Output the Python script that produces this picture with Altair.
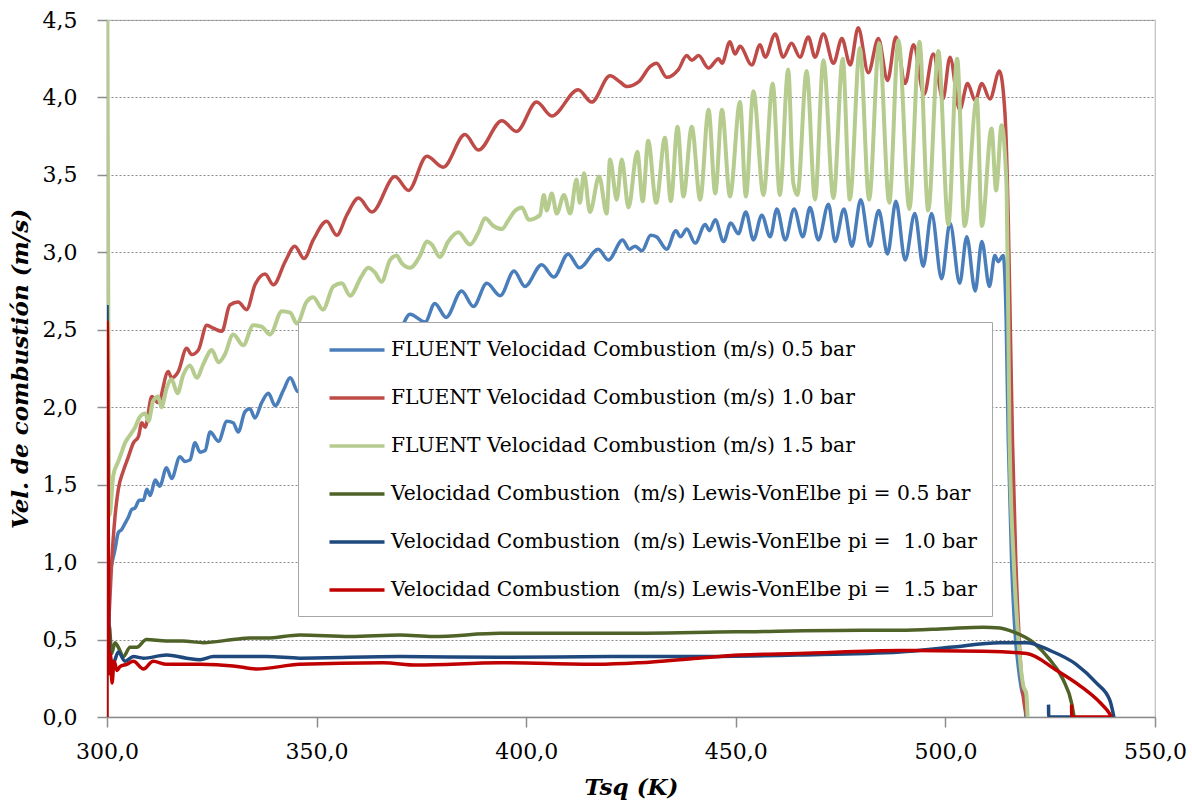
import altair as alt
import pandas as pd

SERIES = [
    "FLUENT Velocidad Combustion (m/s) 0.5 bar",
    "FLUENT Velocidad Combustion (m/s) 1.0 bar",
    "FLUENT Velocidad Combustion (m/s) 1.5 bar",
    "Velocidad Combustion  (m/s) Lewis-VonElbe pi = 0.5 bar",
    "Velocidad Combustion  (m/s) Lewis-VonElbe pi =  1.0 bar",
    "Velocidad Combustion  (m/s) Lewis-VonElbe pi =  1.5 bar",
]
COLORS = ["#4A7EBB", "#BE4B48", "#B5CC8E", "#4F6228", "#1F497D", "#C00000"]
WIDTHS = [3.5, 3.5, 4, 3.5, 3.5, 3.5]

X_TICKS = [300, 350, 400, 450, 500, 550]
Y_TICKS = [0, 0.5, 1.0, 1.5, 2.0, 2.5, 3.0, 3.5, 4.0, 4.5]

# FLUENT 0.5 bar
f05_x = [300.4, 300.6, 301.9, 302.7, 303.5, 304.3, 305.1, 305.9, 306.7, 307.7, 308.7, 309.5, 310.3,
         311.5, 312.6, 314.2, 315.4, 317.4, 318.6, 319.8, 321.0, 322.2, 323.4, 324.6, 326.6, 328.6,
         330.1, 331.3, 332.9, 334.1, 335.3, 336.9, 338.5, 340.1, 342.1, 343.7, 345.6,
         348.0, 350.2, 352.5, 354.8, 357.2, 359.5, 361.8, 364.2, 366.5, 368.9,
         372.3, 375.9, 378.2, 380.9, 384.6, 387.4, 390.6, 393.8, 397.1, 399.7, 403.7, 406.6, 410.0,
         412.7, 417.2, 419.6, 423.0, 424.6, 426.0, 427.6, 429.7, 431.1, 433.5, 435.7, 436.8, 438.3,
         440.3, 442.7, 443.7, 445.1, 447.1, 448.8, 450.6, 452.4, 454.2, 456.2, 458.2, 459.8, 461.8,
         463.9, 466.0, 467.7, 469.7, 472.1, 473.7, 475.8, 477.7, 479.8, 482.0, 484.1, 486.2, 488.2,
         490.4, 492.7, 494.7, 496.7, 499.1, 501.1, 503.4, 505.1, 507.1, 508.7, 510.5, 511.8, 512.6,
         513.8, 514.5, 515.0, 515.8, 516.6, 517.5, 518.4, 518.8, 519.2]
f05_y = [0.50, 0.88, 1.08, 1.19, 1.21, 1.25, 1.29, 1.34, 1.35, 1.40, 1.40, 1.47, 1.43,
         1.53, 1.49, 1.61, 1.54, 1.68, 1.65, 1.66, 1.77, 1.71, 1.72, 1.84, 1.78, 1.91,
         1.90, 1.84, 1.97, 1.99, 1.93, 2.03, 2.09, 2.01, 2.11, 2.19, 2.10,
         2.18, 2.14, 2.27, 2.22, 2.35, 2.30, 2.43, 2.38, 2.50, 2.46,
         2.60, 2.55, 2.67, 2.58, 2.75, 2.65, 2.80, 2.72, 2.88, 2.78, 2.92, 2.84, 2.99,
         2.90, 3.02, 2.95, 3.08, 3.02, 3.04, 3.01, 3.11, 3.10, 3.02, 3.14, 3.10, 3.15,
         3.06, 3.18, 3.14, 3.21, 3.07, 3.19, 3.12, 3.26, 3.08, 3.24, 3.10, 3.28, 3.08,
         3.28, 3.10, 3.29, 3.08, 3.31, 3.07, 3.28, 3.04, 3.34, 3.04, 3.27, 2.99, 3.33,
         2.95, 3.25, 2.91, 3.25, 2.83, 3.19, 2.80, 3.10, 2.75, 3.07, 2.78, 2.98, 2.94,
         2.98, 2.56, 1.79, 1.00, 0.55, 0.30, 0.15, 0.12, 0.00]

# FLUENT 1.0 bar
f10_x = [300.4, 301.1, 301.9, 302.7, 303.9, 305.1, 306.3, 307.5, 308.3, 309.1, 310.7, 312.2, 314.6,
         315.4, 317.0, 319.0, 320.2, 321.8, 323.8, 325.4, 327.4, 329.3, 331.3, 333.3, 335.3, 337.7,
         339.7, 342.5, 344.8, 347.0, 349.2, 352.4, 354.8, 357.2, 360.0, 363.2, 368.7, 371.9, 376.3,
         380.2, 385.4, 388.6, 394.2, 397.7, 402.5, 406.1, 412.4, 415.6, 420.0, 422.4, 424.0, 426.8,
         429.6, 431.1, 433.5, 436.3, 438.3, 439.5, 441.1, 443.5, 445.9, 446.7, 448.6, 449.8, 451.0,
         453.8, 455.8, 457.0, 459.4, 461.3, 463.3, 465.3, 467.3, 468.9, 470.9, 473.3, 475.3, 477.3,
         479.2, 481.6, 484.0, 486.2, 488.2, 490.4, 492.4, 494.9, 497.1, 499.4, 501.1, 503.4, 505.3,
         507.1, 508.7, 510.6, 512.9, 514.2, 515.0, 515.6, 516.0, 516.8, 517.6, 518.5, 519.5]
f10_y = [0.60, 0.99, 1.29, 1.47, 1.59, 1.68, 1.77, 1.81, 1.90, 1.87, 2.07, 2.03, 2.23,
         2.19, 2.23, 2.38, 2.34, 2.37, 2.53, 2.51, 2.49, 2.66, 2.68, 2.63, 2.79, 2.86,
         2.79, 2.94, 3.04, 2.96, 3.08, 3.20, 3.11, 3.24, 3.35, 3.26, 3.49, 3.40, 3.62,
         3.55, 3.76, 3.66, 3.85, 3.78, 3.97, 3.88, 4.05, 3.97, 4.14, 4.10, 4.07, 4.10,
         4.20, 4.22, 4.13, 4.18, 4.27, 4.24, 4.27, 4.19, 4.25, 4.22, 4.36, 4.28, 4.33,
         4.21, 4.34, 4.26, 4.41, 4.26, 4.35, 4.26, 4.39, 4.26, 4.41, 4.22, 4.38, 4.21,
         4.45, 4.16, 4.38, 4.11, 4.39, 4.09, 4.34, 4.02, 4.28, 3.99, 4.26, 3.92, 4.09,
         3.98, 4.09, 3.99, 4.17, 3.90, 3.21, 2.35, 1.79, 1.00, 0.50, 0.15, 0.00]

# FLUENT 1.5 bar
f15_x = [300.1, 300.6, 301.5, 302.7, 303.5, 304.3, 305.5, 306.7, 307.9, 309.1, 309.9, 311.0, 312.2,
         313.0, 314.2, 315.4, 316.8, 318.2, 319.8, 321.4, 323.0, 325.0, 326.6, 328.1, 330.1, 332.5,
         334.9, 336.9, 338.9, 341.7, 343.7, 345.3, 347.6, 349.2, 351.5, 354.0, 356.0, 358.0, 360.6,
         362.3, 363.9, 365.5, 367.5, 369.1, 370.3, 372.3, 374.7, 376.3, 377.5, 379.4, 381.4, 383.8,
         386.6, 388.6, 390.2, 392.2, 394.2, 395.8, 397.4, 399.0, 400.6, 403.3, 404.2, 404.9, 406.1,
         407.3, 409.0, 410.5, 412.0, 412.8, 413.8, 415.2, 417.4, 419.2, 420.0, 421.6, 422.8, 424.4,
         426.5, 427.8, 429.1, 431.0, 433.1, 434.5, 436.1, 437.5, 439.5, 441.5, 443.5, 445.1, 446.7,
         448.6, 451.0, 452.4, 454.2, 456.6, 458.8, 460.5, 462.5, 463.7, 464.7, 466.9, 468.9, 470.9,
         473.3, 475.5, 477.2, 479.6, 481.8, 484.2, 486.6, 488.8, 491.4, 493.8, 495.9, 498.3, 500.7,
         502.8, 504.6, 507.5, 508.7, 511.0, 512.1, 513.4, 514.6, 515.0, 515.3, 516.3, 517.4, 518.6,
         519.3, 519.6]
f15_y = [4.50, 1.30, 1.56, 1.65, 1.71, 1.77, 1.82, 1.87, 1.94, 1.96, 1.91, 2.04, 2.07,
         2.00, 2.12, 2.18, 2.09, 2.21, 2.27, 2.19, 2.28, 2.37, 2.29, 2.34, 2.47, 2.40,
         2.53, 2.52, 2.47, 2.62, 2.61, 2.54, 2.68, 2.71, 2.63, 2.78, 2.80, 2.72, 2.84,
         2.90, 2.87, 2.81, 2.95, 2.98, 2.93, 2.90, 2.98, 3.07, 3.05, 2.97, 3.07, 3.13,
         3.05, 3.13, 3.22, 3.17, 3.15, 3.21, 3.27, 3.29, 3.21, 3.24, 3.37, 3.27, 3.38,
         3.25, 3.37, 3.25, 3.47, 3.32, 3.51, 3.26, 3.49, 3.25, 3.60, 3.34, 3.60, 3.29,
         3.65, 3.33, 3.72, 3.32, 3.74, 3.33, 3.81, 3.36, 3.81, 3.34, 3.92, 3.38, 3.92,
         3.36, 3.97, 3.36, 4.04, 3.37, 4.09, 3.37, 4.18, 3.45, 3.37, 4.17, 3.34, 4.24,
         3.35, 4.25, 3.34, 4.32, 3.34, 4.35, 3.32, 4.37, 3.28, 4.36, 3.27, 4.30, 3.18,
         4.25, 3.17, 3.99, 3.17, 3.80, 3.40, 3.82, 3.42, 2.56, 1.81, 1.00, 0.50, 0.20,
         0.15, 0.00]

# Lewis-VonElbe 0.5 bar
l05_x = [300.3, 300.6, 301.1, 301.9, 302.7, 303.9, 305.5, 307.1, 309.4, 314.2, 318.0, 323.0, 330.1,
         334.1, 338.1, 346.0, 358.0, 369.9, 377.8, 393.7, 420.0, 450.0, 480.0, 489.2, 500.0, 509.0,
         513.0, 516.2, 521.0, 524.9, 528.1, 530.1, 530.7]
l05_y = [0.60, 0.58, 0.41, 0.48, 0.45, 0.39, 0.45, 0.45, 0.50, 0.49, 0.49, 0.48, 0.50,
         0.51, 0.51, 0.53, 0.52, 0.53, 0.52, 0.54, 0.54, 0.55, 0.56, 0.56, 0.57, 0.58,
         0.575, 0.55, 0.48, 0.37, 0.24, 0.09, 0.00]

# Lewis-VonElbe 1.0 bar
l10_x = [300.0, 300.4, 300.7, 301.5, 302.7, 304.3, 306.3, 308.7, 314.2, 319.0, 322.2, 325.4, 334.1,
         338.1, 346.0, 369.9, 393.7, 420.0, 441.0, 465.0, 489.2, 501.1, 513.0, 519.4, 524.9, 531.2,
         536.0, 539.2, 540.2]
l10_y = [2.66, 0.50, 0.39, 0.35, 0.42, 0.36, 0.39, 0.38, 0.40, 0.38, 0.37, 0.39, 0.39,
         0.39, 0.38, 0.39, 0.385, 0.39, 0.39, 0.40, 0.42, 0.45, 0.48, 0.48, 0.43, 0.34,
         0.22, 0.11, 0.00]
l10_tail_x = [524.6, 524.65, 530.0]
l10_tail_y = [0.08, 0.00, 0.00]

# Lewis-VonElbe 1.5 bar
l15_x = [300.0, 300.05, 300.5, 300.8, 301.2, 301.7, 302.4, 303.1, 304.7, 306.3, 308.7, 311.0, 314.2,
         322.2, 330.1, 335.7, 346.0, 365.9, 373.9, 393.7, 417.0, 427.0, 441.0, 451.0, 465.0, 489.2,
         509.0, 519.4, 526.6, 532.2, 537.0, 539.2, 539.6]
l15_y = [0.00, 2.55, 0.28, 0.41, 0.22, 0.36, 0.30, 0.325, 0.34, 0.36, 0.31, 0.36, 0.34,
         0.34, 0.33, 0.31, 0.34, 0.35, 0.335, 0.35, 0.34, 0.35, 0.38, 0.40, 0.41, 0.43,
         0.425, 0.41, 0.30, 0.20, 0.09, 0.02, 0.00]
l15_tail_x = [530.1, 530.15, 539.6]
l15_tail_y = [0.08, 0.00, 0.00]

pieces = [
    (SERIES[0], f05_x, f05_y, 0),
    (SERIES[1], f10_x, f10_y, 0),
    (SERIES[2], f15_x, f15_y, 0),
    (SERIES[3], l05_x, l05_y, 0),
    (SERIES[4], l10_x, l10_y, 0),
    (SERIES[4], l10_tail_x, l10_tail_y, 1),
    (SERIES[5], l15_x, l15_y, 0),
    (SERIES[5], l15_tail_x, l15_tail_y, 1),
]
rows = []
for name, xs, ys, seg in pieces:
    for xv, yv in zip(xs, ys):
        rows.append({"series": name, "x": xv, "y": yv, "seg": seg})
df = pd.DataFrame(rows)

FONT = "DejaVu Serif"
NB = "\u00a0"

legend = alt.Legend(
    orient="none", legendX=191, legendY=302, title=None,
    symbolType="M-2.5,0H2.5", symbolSize=484, symbolStrokeWidth=3.5,
    symbolOffset=31, labelOffset=21, padding=15, rowPadding=24,
    labelFont=FONT, labelFontSize=20.3, labelColor="black", labelLimit=0,
    labelExpr=f"replace(replace(datum.label, '  ', ' {NB}'), '  ', ' {NB}')",
    fillColor="white", strokeColor="#A6A6A6", direction="vertical",
)

num_label = "replace(format(datum.value, '.1f'), '.', ',')"
xenc = alt.X("x:Q", scale=alt.Scale(domain=[300, 550], nice=False, zero=False),
             axis=alt.Axis(values=X_TICKS, title="Tsq (K)", grid=False, labelFlush=False,
                           labelExpr=num_label))
yenc = alt.Y("y:Q", scale=alt.Scale(domain=[0, 4.5], nice=False, zero=True),
             axis=alt.Axis(values=Y_TICKS, title="Vel. de combustión (m/s)", grid=True,
                           labelFlush=False, gridDash=[2, 2], gridColor="#8C8C8C", gridWidth=1.2,
                           labelExpr=num_label))
color = alt.Color("series:N", scale=alt.Scale(domain=SERIES, range=COLORS), legend=legend)

layers = []
for name, w in zip(SERIES, WIDTHS):
    layers.append(
        alt.Chart(df).transform_filter(alt.datum.series == name)
        .mark_line(interpolate="monotone", strokeWidth=w, clip=True)
        .encode(x=xenc, y=yenc, color=color, detail="seg:N")
    )

chart = alt.layer(*layers).properties(
    width=1048, height=697,
    padding={"left": 107, "top": 20, "right": 37, "bottom": 84},
    autosize=alt.AutoSizeParams(type="none"),
    background="white",
).configure_view(
    stroke="#BFBFBF", strokeWidth=1.2,
).configure_axis(
    domainColor="#8C8C8C", domainWidth=1.5,
    tickColor="#8C8C8C", tickWidth=1.5, tickSize=10,
    labelFont=FONT, labelFontSize=22, labelColor="black",
    titleFont=FONT, titleFontSize=23, titleFontStyle="italic", titleFontWeight="bold",
    titleColor="black",
).configure_axisX(
    labelPadding=14, titlePadding=14,
).configure_axisY(
    labelPadding=20, titlePadding=10,
)

chart.save("out.html", embed_options={"renderer": "svg", "actions": False})
